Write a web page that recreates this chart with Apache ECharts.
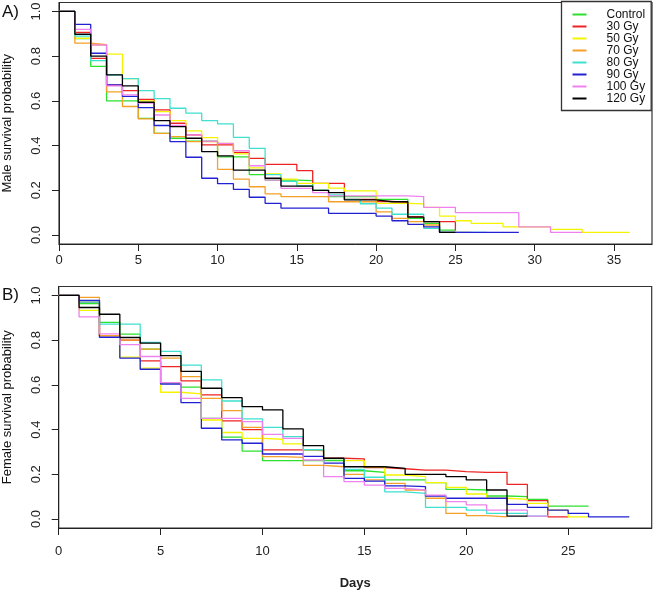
<!DOCTYPE html>
<html><head><meta charset="utf-8">
<script src="https://cdn.jsdelivr.net/npm/echarts@6/dist/echarts.min.js"></script>
<style>html,body{margin:0;padding:0;background:#fff}#c{width:653px;height:590px}</style>
</head><body><div id="c"></div><script>
// ---- data (survival value for each day index 0..last; last entry = curve end) ----
const seriesNames = ['Control', '30 Gy', '50 Gy', '70 Gy', '80 Gy', '90 Gy', '100 Gy', '120 Gy'];
const seriesColors = ['#2ee02e', '#ee2424', '#f4f400', '#f5a028', '#3fe0d0', '#2222d4', '#ee82ee', '#000000'];

const maleControl = [1, 0.879, 0.754, 0.60, 0.60, 0.522, 0.455, 0.433, 0.42, 0.42, 0.35, 0.35, 0.27, 0.246, 0.246, 0.243, 0.2, 0.172, 0.172, 0.172, 0.16, 0.16, 0.075, 0.052, 0.022, 0.022];
const male30 = [1, 0.906, 0.79, 0.67, 0.646, 0.607, 0.56, 0.5, 0.448, 0.403, 0.403, 0.37, 0.343, 0.316, 0.316, 0.288, 0.231, 0.231, 0.16, 0.16, 0.15, 0.146, 0.082, 0.06, 0.06, 0.02];
const male50 = [1, 0.88, 0.85, 0.809, 0.70, 0.60, 0.552, 0.512, 0.466, 0.436, 0.41, 0.363, 0.30, 0.273, 0.25, 0.231, 0.231, 0.21, 0.198, 0.198, 0.142, 0.142, 0.139, 0.124, 0.085, 0.064, 0.052, 0.052, 0.037, 0.037, 0.037, 0.025, 0.025, 0.012, 0.012, 0.012, 0.012];
const male70 = [1, 0.858, 0.851, 0.64, 0.575, 0.52, 0.455, 0.44, 0.418, 0.418, 0.294, 0.25, 0.216, 0.184, 0.172, 0.172, 0.172, 0.149, 0.149, 0.149, 0.104, 0.075, 0.06, 0.045, 0.012, 0.012, 0.012];
const male80 = [1, 0.89, 0.78, 0.716, 0.70, 0.646, 0.61, 0.567, 0.545, 0.512, 0.497, 0.437, 0.388, 0.27, 0.24, 0.22, 0.2, 0.18, 0.16, 0.14, 0.12, 0.093, 0.093, 0.03, 0.012, 0.012, 0.012, 0.012];
const male90 = [1, 0.942, 0.813, 0.672, 0.62, 0.57, 0.49, 0.418, 0.348, 0.254, 0.23, 0.204, 0.169, 0.142, 0.12, 0.12, 0.12, 0.097, 0.097, 0.097, 0.085, 0.064, 0.048, 0.037, 0.012, 0.012, 0.012, 0.012, 0.012, 0.012];
const male100 = [1, 0.92, 0.85, 0.667, 0.627, 0.59, 0.537, 0.49, 0.448, 0.42, 0.41, 0.378, 0.31, 0.246, 0.209, 0.209, 0.19, 0.175, 0.175, 0.175, 0.175, 0.175, 0.172, 0.124, 0.124, 0.1, 0.1, 0.1, 0.1, 0.037, 0.037, 0.012, 0.012, 0.012];
const male120 = [1, 0.898, 0.80, 0.716, 0.667, 0.594, 0.512, 0.485, 0.433, 0.373, 0.354, 0.29, 0.29, 0.254, 0.219, 0.219, 0.2, 0.19, 0.157, 0.157, 0.149, 0.149, 0.08, 0.06, 0.012, 0.012];

const femaleControl = [1, 0.963, 0.88, 0.827, 0.76, 0.607, 0.59, 0.45, 0.366, 0.304, 0.261, 0.261, 0.261, 0.261, 0.216, 0.209, 0.175, 0.175, 0.163, 0.133, 0.13, 0.103, 0.1, 0.088, 0.058, 0.058, 0.058];
const female30 = [1, 0.97, 0.82, 0.80, 0.707, 0.682, 0.618, 0.555, 0.439, 0.40, 0.309, 0.309, 0.306, 0.272, 0.269, 0.23, 0.225, 0.219, 0.219, 0.212, 0.209, 0.209, 0.155, 0.082, 0.01, 0.01];
const female50 = [1, 0.933, 0.82, 0.724, 0.675, 0.567, 0.56, 0.443, 0.387, 0.361, 0.357, 0.336, 0.31, 0.27, 0.261, 0.234, 0.197, 0.19, 0.163, 0.142, 0.112, 0.093, 0.088, 0.07, 0.04, 0.01, 0.01];
const female70 = [1, 0.991, 0.82, 0.80, 0.76, 0.72, 0.637, 0.54, 0.485, 0.41, 0.279, 0.276, 0.24, 0.234, 0.2, 0.175, 0.16, 0.13, 0.093, 0.025, 0.015, 0.01, 0.01];
const female80 = [1, 0.97, 0.872, 0.872, 0.79, 0.75, 0.688, 0.622, 0.528, 0.448, 0.41, 0.369, 0.31, 0.27, 0.222, 0.187, 0.122, 0.115, 0.052, 0.052, 0.04, 0.025, 0.025, 0.013, 0.013];
const female90 = [1, 0.978, 0.813, 0.72, 0.67, 0.604, 0.521, 0.406, 0.354, 0.339, 0.291, 0.291, 0.28, 0.25, 0.182, 0.17, 0.148, 0.145, 0.103, 0.093, 0.093, 0.093, 0.066, 0.052, 0.04, 0.025, 0.01, 0.01, 0.01];
const female100 = [1, 0.904, 0.828, 0.78, 0.727, 0.61, 0.54, 0.45, 0.45, 0.436, 0.379, 0.361, 0.264, 0.19, 0.167, 0.152, 0.137, 0.13, 0.107, 0.078, 0.063, 0.04, 0.04, 0.013, 0.013];
const female120 = [1, 0.946, 0.916, 0.812, 0.787, 0.731, 0.66, 0.585, 0.543, 0.503, 0.488, 0.403, 0.328, 0.272, 0.234, 0.234, 0.227, 0.2, 0.2, 0.19, 0.175, 0.13, 0.013, 0.013];

const maleXTicks = [0, 5, 10, 15, 20, 25, 30, 35];
const femaleXTicks = [0, 5, 10, 15, 20, 25];
const yTicks = [0, 0.2, 0.4, 0.6, 0.8, 1.0];

const maleData = [maleControl, male30, male50, male70, male80, male90, male100, male120];
const femaleData = [femaleControl, female30, female50, female70, female80, female90, female100, female120];

// ---- chart ----
const FONT = 'Liberation Sans, Arial, sans-serif';
const chart = echarts.init(document.getElementById('c'), null, {renderer: 'canvas'});

function xAxisCfg(gi, max, ticks, margin, extra) {
  return Object.assign({
    type: 'value', gridIndex: gi, min: 0, max: max,
    axisLine: {show: true, onZero: false, lineStyle: {color: '#222', width: 1}},
    axisTick: {show: true, customValues: ticks, length: 7, lineStyle: {color: '#222'}},
    axisLabel: {customValues: ticks, margin: margin, fontSize: 13, color: '#222', fontFamily: FONT},
    splitLine: {show: false}
  }, extra || {});
}
function yAxisCfg(gi, name) {
  return {
    type: 'value', gridIndex: gi, min: -0.04, max: 1.04,
    axisLine: {show: true, onZero: false, lineStyle: {color: '#222', width: 1}},
    axisTick: {show: true, customValues: yTicks, length: 7, lineStyle: {color: '#222'}},
    axisLabel: {customValues: yTicks, rotate: 90, margin: 16, fontSize: 13, color: '#222', fontFamily: FONT,
      formatter: v => v.toFixed(1)},
    splitLine: {show: false},
    name: name, nameLocation: 'middle', nameGap: 45,
    nameTextStyle: {fontSize: 13, color: '#111', fontFamily: FONT}
  };
}

const series = [];
[maleData, femaleData].forEach((group, gi) => {
  group.forEach((vals, i) => {
    series.push({
      name: seriesNames[i], type: 'line', step: 'end', symbol: 'none',
      xAxisIndex: gi, yAxisIndex: gi,
      color: seriesColors[i],
      lineStyle: {color: seriesColors[i], width: 1.3},
      data: vals.map((v, d) => [d, v]),
      animation: false, silent: true
    });
  });
});

chart.setOption({
  backgroundColor: '#fff',
  animation: false,
  grid: [
    {left: 59, width: 593, top: 2.5, height: 241.5, show: true, borderColor: '#333', borderWidth: 1.2,
     containLabel: false, outerBoundsMode: 'none'},
    {left: 58.7, width: 593, top: 286.5, height: 241.5, show: true, borderColor: '#333', borderWidth: 1.2,
     containLabel: false, outerBoundsMode: 'none'}
  ],
  xAxis: [
    xAxisCfg(0, 37.4, maleXTicks, 10),
    xAxisCfg(1, 29.1, femaleXTicks, 17, {name: 'Days', nameLocation: 'middle', nameGap: 49,
      nameTextStyle: {fontSize: 13, fontWeight: 'bold', color: '#222', fontFamily: FONT}})
  ],
  yAxis: [yAxisCfg(0, 'Male survival probability'), yAxisCfg(1, 'Female survival probability')],
  legend: {
    data: seriesNames, orient: 'vertical', left: 561.5, top: 1.5,
    padding: [7, 6, 6, 11], itemWidth: 14, itemHeight: 2, itemGap: 0, icon: 'rect',
    selectedMode: false,
    textStyle: {fontSize: 12, lineHeight: 12, color: '#111', fontFamily: FONT, padding: [0, 0, 0, 15]},
    borderColor: '#333', borderWidth: 1.3, backgroundColor: '#fff'
  },
  graphic: [
    {type: 'text', left: 2, top: 4, style: {text: 'A)', fontSize: 17, fill: '#111', fontFamily: FONT}},
    {type: 'text', left: 2, top: 287, style: {text: 'B)', fontSize: 17, fill: '#111', fontFamily: FONT}}
  ],
  series: series
});
</script></body></html>
